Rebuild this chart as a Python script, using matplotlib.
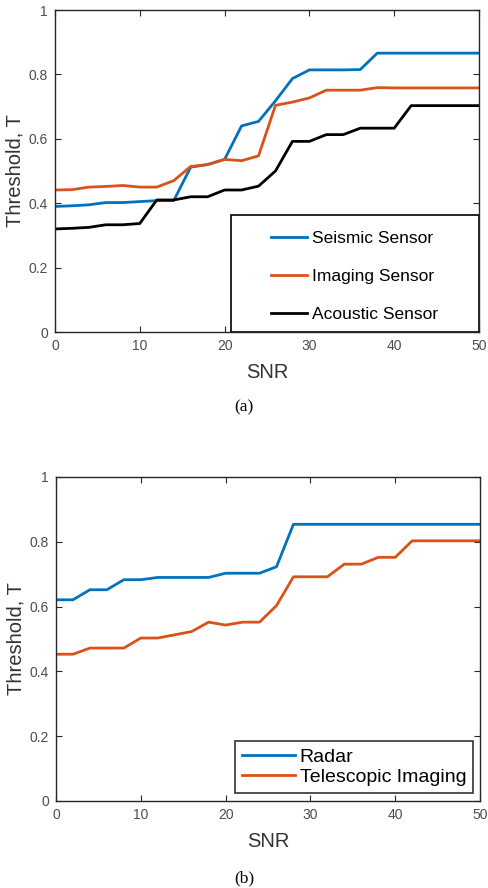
import numpy as np
import matplotlib.pyplot as plt
from matplotlib.patches import Rectangle

plt.rcParams['font.family'] = ['Liberation Sans', 'DejaVu Sans']

# SNR grid (every 2 dB)
snr = np.arange(0, 51, 2)

# (a) sensors
seismic = [0.390, 0.392, 0.395, 0.402, 0.402, 0.405, 0.408, 0.408, 0.512, 0.520, 0.536,
           0.640, 0.654, 0.718, 0.787, 0.814, 0.814, 0.814, 0.815, 0.866, 0.866, 0.866,
           0.866, 0.866, 0.866, 0.866]
imaging = [0.441, 0.442, 0.450, 0.452, 0.455, 0.450, 0.450, 0.470, 0.514, 0.520, 0.536,
           0.532, 0.547, 0.704, 0.714, 0.727, 0.751, 0.751, 0.751, 0.759, 0.758, 0.758,
           0.758, 0.758, 0.758, 0.758]
acoustic = [0.320, 0.322, 0.325, 0.333, 0.333, 0.337, 0.410, 0.410, 0.420, 0.420, 0.441,
            0.441, 0.453, 0.500, 0.592, 0.592, 0.613, 0.613, 0.633, 0.633, 0.633, 0.703,
            0.703, 0.703, 0.703, 0.703]

# (b) radar / telescopic
radar = [0.621, 0.621, 0.652, 0.652, 0.683, 0.683, 0.690, 0.690, 0.690, 0.690, 0.703,
         0.703, 0.703, 0.723, 0.854, 0.854, 0.854, 0.854, 0.854, 0.854, 0.854, 0.854,
         0.854, 0.854, 0.854, 0.854]
telescopic = [0.453, 0.453, 0.472, 0.472, 0.472, 0.503, 0.503, 0.513, 0.523, 0.552, 0.543,
              0.552, 0.552, 0.603, 0.692, 0.692, 0.692, 0.731, 0.731, 0.752, 0.752, 0.803,
              0.803, 0.803, 0.803, 0.803]

BLUE = '#0072BD'
ORANGE = '#D95319'
TICKGRAY = '#4d4d4d'

W, H = 488, 888
fig = plt.figure(figsize=(W / 100, H / 100), dpi=100)

def px_axes(left, right, top, bottom):
    return fig.add_axes([left / W, 1 - bottom / H, (right - left) / W, (bottom - top) / H])

def style(ax):
    ax.set_xlim(0, 50)
    ax.set_ylim(0, 1)
    ax.set_xticks([0, 10, 20, 30, 40, 50])
    ax.set_yticks([0, 0.2, 0.4, 0.6, 0.8, 1])
    ax.set_yticklabels(['0', '0.2', '0.4', '0.6', '0.8', '1'])
    ax.tick_params(direction='in', top=True, right=True, length=4, width=0.8,
                   labelsize=10, labelcolor=TICKGRAY, color='#262626', pad=5)
    for s in ax.spines.values():
        s.set_color('#262626')
        s.set_linewidth(1.0)
    ax.set_xlabel('SNR', fontsize=14.5, color='#333333', labelpad=7)
    ax.set_ylabel('Threshold, T', fontsize=14.5, color='#333333', labelpad=3)

# ---- (a)
ax1 = px_axes(55, 479, 10, 332)
ax1.plot(snr, seismic, color=BLUE, lw=2, label='Seismic Sensor')
ax1.plot(snr, imaging, color=ORANGE, lw=2, label='Imaging Sensor')
ax1.plot(snr, acoustic, color='black', lw=2, label='Acoustic Sensor')
style(ax1)
# MATLAB-like legend box (wider than its content)
x0, x1 = (231 - 55) / 424, 1.0
y0, y1 = 0.0, (332 - 215) / 322
ax1.add_patch(Rectangle((x0, y0), x1 - x0, y1 - y0, transform=ax1.transAxes,
                        facecolor='white', edgecolor='black', lw=1.2, zorder=4))
leg1 = ax1.legend(loc='center left',
                  bbox_to_anchor=((271 - 55) / 424, (y0 + y1) / 2 - 3 / 322),
                  frameon=False, fontsize=12.5, handlelength=2.1, handletextpad=0.25,
                  labelspacing=1.3, borderpad=0, borderaxespad=0)
leg1.set_zorder(5)
fig.text(0.5, 1 - 407 / H, '(a)', ha='center', va='center', fontsize=12.5,
         family='Liberation Serif')

# ---- (b)
ax2 = px_axes(56, 480, 477, 801)
ax2.plot(snr, radar, color=BLUE, lw=2, label='Radar')
ax2.plot(snr, telescopic, color=ORANGE, lw=2, label='Telescopic Imaging')
style(ax2)
leg2 = ax2.legend(loc='lower right', frameon=True, fontsize=14, handlelength=2.7,
                  handletextpad=0.25, labelspacing=0.15, borderpad=0.35,
                  borderaxespad=0, fancybox=False)
leg2.set_bbox_to_anchor(((473 - 56) / 424, (801 - 793) / 324), transform=ax2.transAxes)
leg2.get_frame().set_edgecolor('black')
leg2.get_frame().set_linewidth(1.2)
fig.text(0.5, 1 - 878 / H, '(b)', ha='center', va='center', fontsize=12.5,
         family='Liberation Serif')

plt.savefig('out.png', dpi=100)
